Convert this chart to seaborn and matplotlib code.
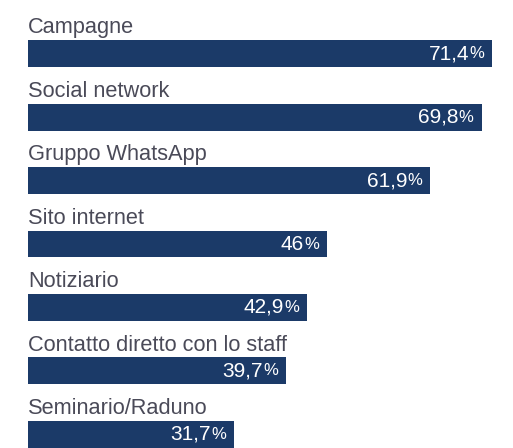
import matplotlib
matplotlib.use("Agg")
import matplotlib.pyplot as plt
import seaborn as sns
import pandas as pd

# Dati
canali = ["Campagne", "Social network", "Gruppo WhatsApp", "Sito internet",
          "Notiziario", "Contatto diretto con lo staff", "Seminario/Raduno"]
valori = [71.4, 69.8, 61.9, 46, 42.9, 39.7, 31.7]
etichette = ["71,4", "69,8", "61,9", "46", "42,9", "39,7", "31,7"]

df = pd.DataFrame({"canale": canali, "valore": valori})

sns.set_theme(style="white")
plt.rcParams["font.family"] = ["Liberation Sans", "DejaVu Sans"]

bar_color = "#1b3a68"
text_color = "#4a4a58"

fig = plt.figure(figsize=(5.13, 4.48), dpi=100)
ax = fig.add_axes([0, 0, 1, 1])

sns.barplot(data=df, x="valore", y="canale", orient="h", color=bar_color,
            width=0.425, saturation=1, linewidth=0, ax=ax)

# scala: 6.5 px per punto percentuale, barre a partire da x=28 px
ax.set_xlim(-28 / 6.5, (513 - 28) / 6.5)
ax.set_ylim(6.213, -0.843)
ax.axis("off")

half = 0.425 / 2
fig.canvas.draw()
renderer = fig.canvas.get_renderer()
for i, (nome, v, lab) in enumerate(zip(canali, valori, etichette)):
    # etichetta sopra la barra
    ax.text(0, i - half - 0.11, nome, ha="left", va="baseline",
            fontsize=15.7, color=text_color)
    # valore dentro la barra, "%" più piccolo
    pct = ax.annotate("%", xy=(v, i), xytext=(-8, 0), textcoords="offset pixels",
                      ha="right", va="center", fontsize=12, color="white")
    w = pct.get_window_extent(renderer).width
    ax.annotate(lab, xy=(v, i), xytext=(-8 - w, 0), textcoords="offset pixels",
                ha="right", va="center", fontsize=15, color="white")

fig.savefig("out.png", dpi=100)
